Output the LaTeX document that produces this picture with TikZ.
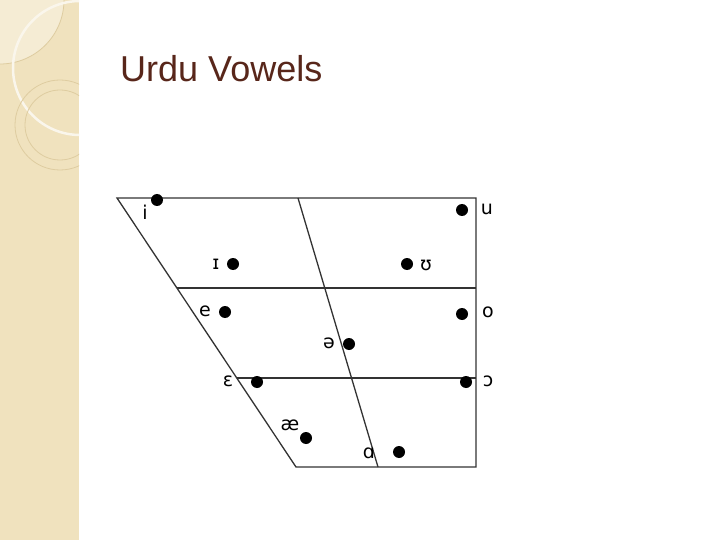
\documentclass[tikz,border=0pt]{standalone}
\usepackage{fontspec}
\setmainfont{Liberation Sans}
\newfontfamily\ipa{DejaVu Sans}
\definecolor{strip}{RGB}{240,226,190}
\definecolor{stripl}{RGB}{245,236,212}
\definecolor{ring}{RGB}{222,204,160}
\definecolor{titlec}{RGB}{88,38,26}
\begin{document}
\begin{tikzpicture}[x=1pt,y=-1pt,
  dot/.style={circle,fill=black,inner sep=0pt,minimum size=12pt},
  lab/.style={font=\ipa\fontsize{19}{19}\selectfont,inner sep=0pt},
  ln/.style={draw=black!80,line width=1.3pt}]
\useasboundingbox (0,0) rectangle (720,540);
\fill[white] (0,0) rectangle (720,540);
\begin{scope}
\clip (0,0) rectangle (79,540);
\fill[strip] (0,0) rectangle (79,540);
\fill[stripl] (0,0) circle (64);
\draw[ring,line width=0.8pt] (0,0) circle (64);
\draw[white!70!strip,line width=2.5pt] (80,68) circle (67);
\draw[ring,line width=0.8pt] (60,125) circle (45);
\draw[ring,line width=0.8pt] (60,125) circle (35);
\end{scope}
\node[anchor=base west,text=titlec,font=\fontsize{36}{36}\selectfont,inner sep=0pt] (title) at (120,82) {Urdu Vowels};
\coordinate (tl) at (117,198); \coordinate (tr) at (476,198);
\coordinate (bl) at (296,467); \coordinate (br) at (476,467);
\coordinate (m1l) at (177,288); \coordinate (m1r) at (476,288);
\coordinate (m2l) at (237,378); \coordinate (m2r) at (476,378);
\coordinate (st) at (298,198); \coordinate (sb) at (378,467);
\draw[ln] (tl) -- (tr) -- (br) -- (bl) -- cycle;
\draw[ln] (m1l) -- (m1r);
\draw[ln] (m2l) -- (m2r);
\draw[ln] (st) -- (sb);
\node[dot] (di) at (157,200) {}; \node[lab] (li) at (145,212) {i};
\node[dot] (du) at (462,210) {}; \node[lab] (lu) at (487,209) {u};
\node[dot] (dI) at (233,264) {}; \node[lab] (lI) at (216,264) {ɪ};
\node[dot] (dU) at (407,264) {}; \node[lab] (lU) at (426,265) {ʊ};
\node[dot] (de) at (225,312) {}; \node[lab] (le) at (205,311) {e};
\node[dot] (do) at (462,314) {}; \node[lab] (lo) at (488,312) {o};
\node[dot] (dS) at (349,344) {}; \node[lab] (lS) at (329,343) {ə};
\node[dot] (dE) at (257,382) {}; \node[lab] (lE) at (228,381) {ɛ};
\node[dot] (dO) at (466,382) {}; \node[lab] (lO) at (488,381) {ɔ};
\node[dot] (dae) at (306,438) {}; \node[lab] (lae) at (290,425) {æ};
\node[dot] (dA) at (399,452) {}; \node[lab] (lA) at (369,453) {ɑ};
\end{tikzpicture}
\end{document}
